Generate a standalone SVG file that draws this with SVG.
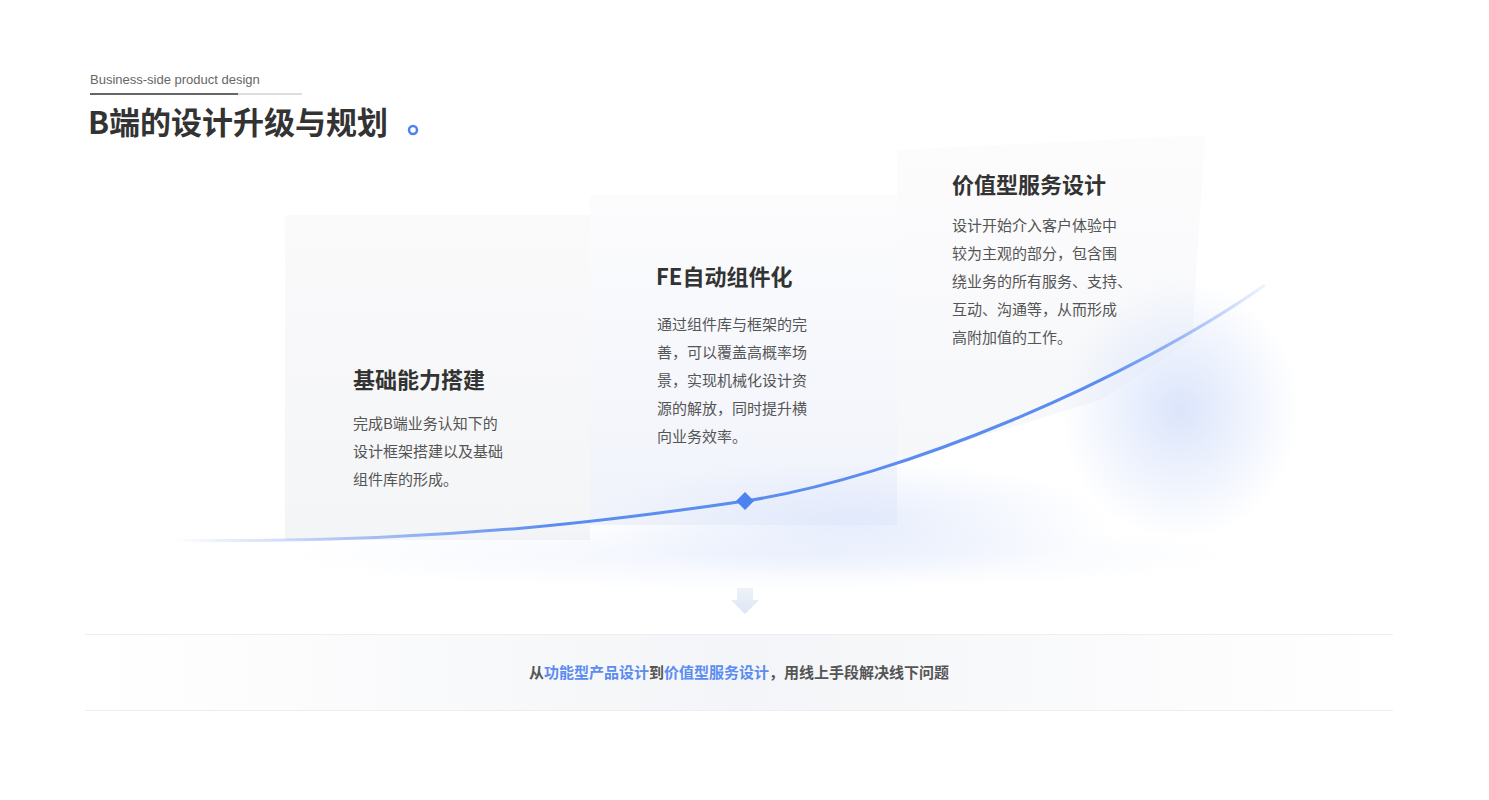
<svg xmlns="http://www.w3.org/2000/svg" width="1489" height="800" viewBox="0 0 1489 800">
<defs>
<style>
.t{font-family:"Noto Sans CJK SC","Noto Sans",sans-serif;font-weight:700;fill:#333;font-size:22px}
.b{font-family:"Noto Sans CJK SC","Noto Sans",sans-serif;fill:#555;font-size:15px}
.hl{fill:#5b8cf0}
</style>
<linearGradient id="p1" x1="0" y1="0" x2="0" y2="1"><stop offset="0" stop-color="#fafafb"/><stop offset="1" stop-color="#f4f5f7"/></linearGradient>
<linearGradient id="p2" x1="0" y1="0" x2="0" y2="1"><stop offset="0" stop-color="#fcfcfd"/><stop offset="1" stop-color="#f0f3fb"/></linearGradient>
<linearGradient id="p3" x1="0" y1="0" x2="0" y2="1"><stop offset="0" stop-color="#fcfcfd"/><stop offset="1" stop-color="#f6f7f9"/></linearGradient>
<radialGradient id="glow" cx="0.5" cy="0.5" r="0.5"><stop offset="0" stop-color="#dbe5fb"/><stop offset="1" stop-color="#dbe5fb" stop-opacity="0"/></radialGradient>
<linearGradient id="fade" x1="0" y1="0" x2="0" y2="1"><stop offset="0" stop-color="#eef2fb" stop-opacity="0.9"/><stop offset="1" stop-color="#fff" stop-opacity="0"/></linearGradient>
<linearGradient id="cv" x1="172" y1="0" x2="1265" y2="0" gradientUnits="userSpaceOnUse"><stop offset="0" stop-color="#5b8cf0" stop-opacity="0"/><stop offset="0.35" stop-color="#5b8cf0"/><stop offset="0.85" stop-color="#5b8cf0"/><stop offset="1" stop-color="#5b8cf0" stop-opacity="0.1"/></linearGradient>
<linearGradient id="band" x1="0" y1="0" x2="1" y2="0"><stop offset="0" stop-color="#fff"/><stop offset="0.5" stop-color="#f4f5f8"/><stop offset="1" stop-color="#fff"/></linearGradient>
<linearGradient id="ar" x1="0" y1="0" x2="0" y2="1"><stop offset="0" stop-color="#eef2f8"/><stop offset="1" stop-color="#dde6f6"/></linearGradient>
<linearGradient id="ul" x1="0" y1="0" x2="1" y2="0"><stop offset="0" stop-color="#666"/><stop offset="0.7" stop-color="#666"/><stop offset="0.7" stop-color="#ddd"/><stop offset="1" stop-color="#ddd"/></linearGradient>
</defs>
<rect width="1489" height="800" fill="#fff"/>
<g id="header">
<text x="90" y="84" font-family="Liberation Sans,Arial,sans-serif" font-size="13" fill="#666">Business-side product design</text>
<rect x="90" y="93" width="212" height="2" fill="url(#ul)"/>
<text x="88" y="134" class="t" style="font-size:31px">B端的设计升级与规划</text>
<circle cx="413" cy="130" r="4" fill="none" stroke="#4d83f0" stroke-width="2.5"/>
</g>
<g id="panels">
<rect x="285" y="215" width="305" height="325" fill="url(#p1)"/>
<rect x="590" y="195" width="307" height="330" fill="url(#p2)"/>
<polygon points="897,150 1205,135 1192,340 1100,400 897,462" fill="url(#p3)"/>
<ellipse cx="1180" cy="410" rx="120" ry="130" fill="url(#glow)"/>
<ellipse cx="850" cy="520" rx="260" ry="60" fill="url(#glow)" opacity="0.7"/>
<ellipse cx="760" cy="555" rx="480" ry="35" fill="url(#glow)" opacity="0.4"/>
</g>
<g id="connectors">
<path d="M172,540 C450,545 650,515 745,501 C900,478 1130,380 1265,285" fill="none" stroke="url(#cv)" stroke-width="3"/>
<polygon points="745,492 754,501 745,510 736,501" fill="#4d83f0"/>
<polygon points="737,588 753,588 753,600 759,600 745,614 731,600 737,600" fill="url(#ar)"/>
</g>
<g id="node1">
<text x="353" y="388" class="t">基础能力搭建</text>
<text class="b"><tspan x="353" y="429">完成B端业务认知下的</tspan><tspan x="353" y="457">设计框架搭建以及基础</tspan><tspan x="353" y="485">组件库的形成。</tspan></text>
</g>
<g id="node2">
<text x="656" y="285" class="t">FE自动组件化</text>
<text class="b"><tspan x="657" y="330">通过组件库与框架的完</tspan><tspan x="657" y="358">善，可以覆盖高概率场</tspan><tspan x="657" y="386">景，实现机械化设计资</tspan><tspan x="657" y="414">源的解放，同时提升横</tspan><tspan x="657" y="442">向业务效率。</tspan></text>
</g>
<g id="node3">
<text x="952" y="193" class="t">价值型服务设计</text>
<text class="b"><tspan x="952" y="231">设计开始介入客户体验中</tspan><tspan x="952" y="259">较为主观的部分，包含围</tspan><tspan x="952" y="287">绕业务的所有服务、支持、</tspan><tspan x="952" y="315">互动、沟通等，从而形成</tspan><tspan x="952" y="343">高附加值的工作。</tspan></text>
</g>
<g id="footer">
<rect x="85" y="634" width="1308" height="76" fill="url(#band)"/>
<line x1="85" y1="634.5" x2="1393" y2="634.5" stroke="#eee"/>
<line x1="85" y1="710.5" x2="1393" y2="710.5" stroke="#eee"/>
<text x="739" y="678" text-anchor="middle" class="t" style="font-size:15px;fill:#555">从<tspan class="hl">功能型产品设计</tspan>到<tspan class="hl">价值型服务设计</tspan>，用线上手段解决线下问题</text>
</g>
</svg>
